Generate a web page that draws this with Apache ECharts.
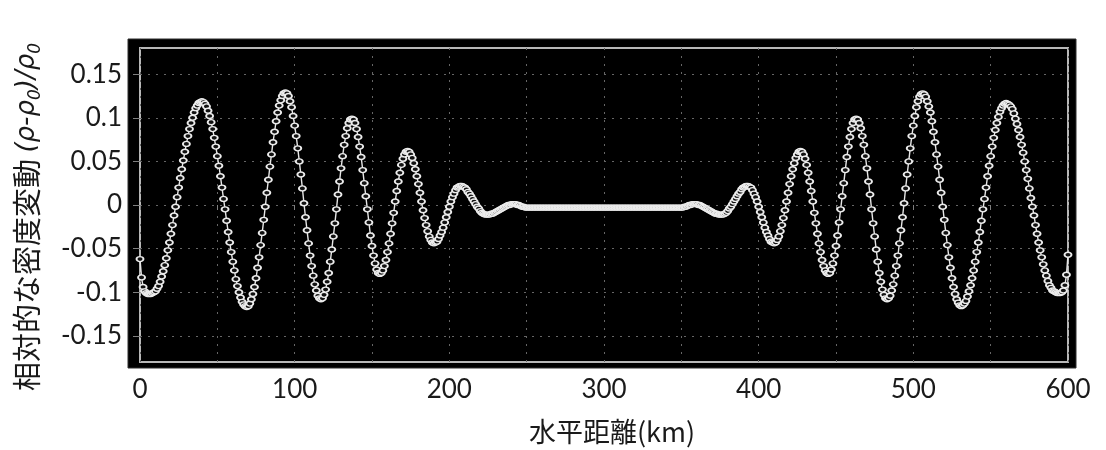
<!DOCTYPE html>
<html>
<head>
<meta charset="utf-8">
<script src="https://cdn.jsdelivr.net/npm/echarts@6/dist/echarts.min.js"></script>
<style>
  html, body { margin: 0; padding: 0; background: #ffffff; }
  #chart { width: 1106px; height: 450px; }
</style>
</head>
<body>
<div id="chart"></div>
<script>
// Tick values shown on the axes
const xLabelValues = [0, 100, 200, 300, 400, 500, 600];
const yTickValues = [-0.15, -0.1, -0.05, 0, 0.05, 0.1, 0.15];

// Horizontal sampling of the profile: one sample per km, starting at 0 km
const distanceStartKm = 0;
const distanceStepKm = 1;

// Relative density perturbation (rho - rho0) / rho0 along the 0-600 km line
const densityChange = [
  -0.062,-0.083,-0.094,-0.099,-0.101,-0.102,-0.102,-0.102,-0.101,-0.100,
  -0.099,-0.096,-0.093,-0.088,-0.082,-0.076,-0.069,-0.061,-0.052,-0.043,
  -0.033,-0.023,-0.012,-0.002,0.009,0.020,0.031,0.041,0.051,0.061,
  0.070,0.079,0.087,0.094,0.100,0.106,0.111,0.114,0.117,0.118,
  0.119,0.118,0.116,0.113,0.108,0.102,0.095,0.087,0.077,0.067,
  0.056,0.045,0.033,0.020,0.007,-0.005,-0.018,-0.031,-0.043,-0.054,
  -0.065,-0.075,-0.085,-0.093,-0.100,-0.106,-0.111,-0.114,-0.116,-0.117,
  -0.116,-0.113,-0.108,-0.102,-0.094,-0.084,-0.072,-0.060,-0.046,-0.032,
  -0.017,-0.002,0.014,0.029,0.044,0.058,0.072,0.084,0.096,0.106,
  0.114,0.120,0.125,0.128,0.129,0.128,0.125,0.119,0.112,0.102,
  0.091,0.079,0.065,0.050,0.035,0.019,0.002,-0.014,-0.029,-0.044,
  -0.058,-0.070,-0.081,-0.091,-0.098,-0.104,-0.107,-0.108,-0.107,-0.103,
  -0.097,-0.088,-0.078,-0.065,-0.051,-0.036,-0.021,-0.005,0.012,0.027,
  0.042,0.056,0.069,0.079,0.088,0.094,0.098,0.099,0.098,0.094,
  0.087,0.078,0.067,0.055,0.040,0.025,0.010,-0.005,-0.020,-0.035,
  -0.047,-0.058,-0.067,-0.074,-0.078,-0.079,-0.078,-0.075,-0.070,-0.063,
  -0.054,-0.044,-0.033,-0.021,-0.009,0.004,0.016,0.027,0.037,0.046,
  0.053,0.058,0.061,0.062,0.061,0.058,0.054,0.048,0.041,0.033,
  0.024,0.014,0.004,-0.006,-0.015,-0.023,-0.030,-0.036,-0.040,-0.043,
  -0.044,-0.043,-0.042,-0.039,-0.035,-0.031,-0.026,-0.020,-0.014,-0.008,
  -0.002,0.004,0.009,0.013,0.017,0.020,0.021,0.022,0.022,0.021,
  0.020,0.018,0.015,0.013,0.010,0.007,0.004,0.001,-0.002,-0.004,
  -0.007,-0.009,-0.010,-0.011,-0.011,-0.011,-0.011,-0.010,-0.010,-0.009,
  -0.008,-0.007,-0.006,-0.005,-0.004,-0.003,-0.002,-0.001,0.000,0.000,
  0.001,0.001,0.001,0.001,0.000,0.000,-0.001,-0.002,-0.002,-0.003,
  -0.003,-0.003,-0.003,-0.003,-0.003,-0.003,-0.003,-0.003,-0.003,-0.003,
  -0.003,-0.003,-0.003,-0.003,-0.003,-0.003,-0.003,-0.003,-0.003,-0.003,
  -0.003,-0.003,-0.003,-0.003,-0.003,-0.003,-0.003,-0.003,-0.003,-0.003,
  -0.003,-0.003,-0.003,-0.003,-0.003,-0.003,-0.003,-0.003,-0.003,-0.003,
  -0.003,-0.003,-0.003,-0.003,-0.003,-0.003,-0.003,-0.003,-0.003,-0.003,
  -0.003,
  -0.003,-0.003,-0.003,-0.003,-0.003,-0.003,-0.003,-0.003,-0.003,-0.003,
  -0.003,-0.003,-0.003,-0.003,-0.003,-0.003,-0.003,-0.003,-0.003,-0.003,
  -0.003,-0.003,-0.003,-0.003,-0.003,-0.003,-0.003,-0.003,-0.003,-0.003,
  -0.003,-0.003,-0.003,-0.003,-0.003,-0.003,-0.003,-0.003,-0.003,-0.003,
  -0.003,-0.003,-0.003,-0.003,-0.003,-0.003,-0.003,-0.003,-0.003,-0.003,
  -0.003,-0.002,-0.002,-0.001,0.000,0.000,0.001,0.001,0.001,0.001,
  0.000,0.000,-0.001,-0.002,-0.003,-0.004,-0.005,-0.006,-0.007,-0.008,
  -0.009,-0.010,-0.010,-0.011,-0.011,-0.011,-0.011,-0.010,-0.009,-0.007,
  -0.004,-0.002,0.001,0.004,0.007,0.010,0.013,0.015,0.018,0.020,
  0.021,0.022,0.022,0.021,0.020,0.017,0.013,0.009,0.004,-0.002,
  -0.008,-0.014,-0.020,-0.026,-0.031,-0.035,-0.039,-0.042,-0.043,-0.044,
  -0.043,-0.040,-0.036,-0.030,-0.023,-0.015,-0.006,0.004,0.014,0.024,
  0.033,0.041,0.048,0.054,0.058,0.061,0.062,0.061,0.058,0.053,
  0.046,0.037,0.027,0.016,0.004,-0.009,-0.021,-0.033,-0.044,-0.054,
  -0.063,-0.070,-0.075,-0.078,-0.079,-0.078,-0.074,-0.067,-0.058,-0.047,
  -0.035,-0.020,-0.005,0.010,0.025,0.040,0.055,0.067,0.078,0.087,
  0.094,0.098,0.099,0.098,0.094,0.088,0.079,0.069,0.056,0.042,
  0.027,0.012,-0.005,-0.021,-0.036,-0.051,-0.065,-0.078,-0.088,-0.097,
  -0.103,-0.107,-0.108,-0.107,-0.104,-0.098,-0.091,-0.081,-0.070,-0.058,
  -0.044,-0.029,-0.014,0.002,0.019,0.035,0.050,0.065,0.079,0.091,
  0.102,0.112,0.119,0.124,0.127,0.128,0.127,0.124,0.119,0.113,
  0.106,0.096,0.084,0.072,0.058,0.044,0.029,0.014,-0.002,-0.017,
  -0.032,-0.046,-0.060,-0.072,-0.084,-0.094,-0.102,-0.108,-0.112,-0.115,
  -0.116,-0.115,-0.113,-0.110,-0.105,-0.099,-0.092,-0.084,-0.075,-0.065,
  -0.054,-0.043,-0.031,-0.018,-0.005,0.007,0.020,0.033,0.045,0.056,
  0.067,0.077,0.086,0.094,0.101,0.107,0.111,0.114,0.116,0.117,
  0.116,0.115,0.113,0.110,0.105,0.099,0.093,0.086,0.078,0.069,
  0.060,0.050,0.040,0.030,0.019,0.008,-0.002,-0.012,-0.023,-0.033,
  -0.043,-0.052,-0.060,-0.068,-0.075,-0.081,-0.087,-0.092,-0.095,-0.098,
  -0.099,-0.100,-0.101,-0.101,-0.101,-0.100,-0.098,-0.092,-0.080,-0.057
];

const xAxisTitle = '水平距離(km)';
const yAxisTitle = '{jp|相対的な密度変動 }{m|(ρ-ρ}{s|0}{m|)/ρ}{s|0}';

const profilePoints = densityChange.map((v, i) => [distanceStartKm + i * distanceStepKm, v]);

const chart = echarts.init(document.getElementById('chart'), null, { renderer: 'canvas' });

chart.setOption({
  animation: false,
  backgroundColor: '#ffffff',
  graphic: [{
    type: 'rect',
    z: -10,
    silent: true,
    shape: { x: 128, y: 39, width: 948, height: 329 },
    style: { fill: '#000000', stroke: '#2e2e2e', lineWidth: 1 }
  }],
  grid: {
    left: 140, right: 38, top: 48, bottom: 88,
    show: true,
    backgroundColor: '#000000',
    borderColor: '#b8b8b8',
    borderWidth: 2
  },
  xAxis: {
    type: 'value',
    min: 0, max: 600, interval: 50,
    axisLine: { show: false },
    axisTick: { show: true, inside: false, length: 5, lineStyle: { color: '#808080', width: 1 } },
    axisLabel: {
      customValues: xLabelValues,
      margin: 15,
      fontSize: 26,
      fontFamily: 'Lato',
      color: '#1a1a1a'
    },
    splitLine: { show: true, lineStyle: { color: '#666666', type: [2, 6], width: 1 } },
    name: xAxisTitle,
    nameLocation: 'middle',
    nameGap: 56,
    nameTextStyle: {
      fontFamily: 'Noto Sans CJK JP',
      fontSize: 27,
      color: '#1a1a1a',
      padding: [0, 0, 0, 16]
    }
  },
  yAxis: {
    type: 'value',
    min: -0.18, max: 0.18, splitNumber: 7,
    axisLine: { show: false },
    axisTick: { show: true, inside: false, length: 7, customValues: yTickValues, lineStyle: { color: '#808080', width: 1 } },
    axisLabel: {
      customValues: yTickValues,
      margin: 18,
      fontSize: 26,
      fontFamily: 'Lato',
      color: '#1a1a1a'
    },
    splitLine: { show: true, customValues: yTickValues, lineStyle: { color: '#666666', type: [2, 6], width: 1 } },
    name: yAxisTitle,
    nameLocation: 'middle',
    nameRotate: 90,
    nameGap: 96,
    nameTextStyle: {
      padding: [0, 24, 0, 0],
      rich: {
        jp: { fontFamily: 'Noto Sans CJK JP', fontSize: 29, color: '#1a1a1a', lineHeight: 34 },
        m: { fontFamily: 'DejaVu Sans', fontStyle: 'italic', fontSize: 26, color: '#1a1a1a', lineHeight: 34 },
        s: { fontFamily: 'DejaVu Sans', fontStyle: 'italic', fontSize: 17, color: '#1a1a1a', lineHeight: 14, verticalAlign: 'bottom' }
      }
    }
  },
  series: [{
    type: 'line',
    data: profilePoints,
    showSymbol: true,
    showAllSymbol: true,
    symbol: 'circle',
    symbolSize: [7, 5],
    silent: true,
    itemStyle: { color: '#111111', borderColor: '#ececec', borderWidth: 1.6 },
    lineStyle: { color: '#e6e6e6', width: 1.4 }
  }]
});
</script>
</body>
</html>
